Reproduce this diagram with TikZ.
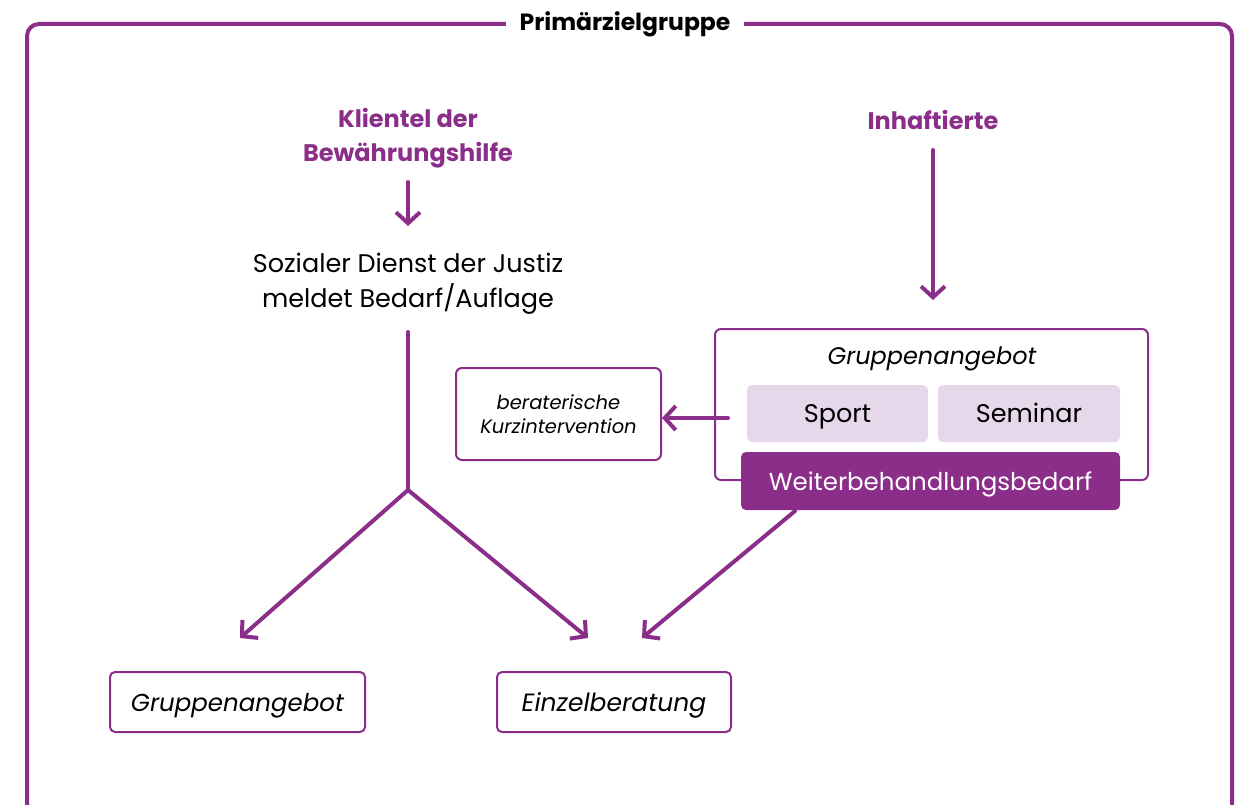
\documentclass[tikz,border=0pt]{standalone}
\usepackage{fontspec}
\setmainfont{Poppins}
\usetikzlibrary{arrows.meta}
\definecolor{pur}{RGB}{139,46,137}
\definecolor{lpur}{RGB}{230,216,234}
\begin{document}
\begin{tikzpicture}[x=1pt,y=-1pt,
  conn/.style={draw=pur,line width=4pt,line cap=round,-{Straight Barb[length=11pt,width=24pt,line width=4pt]}},
  plain/.style={draw=pur,line width=4pt,line cap=round},
  obox/.style={draw=pur,line width=2pt,rounded corners=6pt,fill=white},
  head/.style={font=\fontsize{24}{34}\selectfont\bfseries,text=pur,align=center},
  body/.style={font=\fontsize{25.5}{35}\selectfont,align=center},
  tile/.style={rounded corners=5pt,text height=21pt,text depth=3pt,inner ysep=0pt}]
\useasboundingbox (0,0) rectangle (1239,805);
\draw[draw=pur,line width=4pt,rounded corners=12pt] (27,820) -- (27,24) -- (1232,24) -- (1232,820);
\node[fill=white,inner xsep=14pt,font=\fontsize{23.5}{26}\selectfont\bfseries] (title) at (625,24) {Primärzielgruppe};
% left
\node[head] (klient) at (408,138) {Klientel der\\Bewährungshilfe};
\coordinate (ka) at (408,182);
\coordinate (kb) at (408,226);
\draw[conn] (ka) -- (kb);
\node[body] (sdj) at (408,284) {Sozialer Dienst der Justiz\\meldet Bedarf/Auflage};
\coordinate (ls) at (408,332);
\coordinate (jn) at (408,490);
\draw[plain] (ls) -- (jn);
% right
\node[head] (inh) at (933,120) {Inhaftierte};
\coordinate (ia) at (933,150);
\coordinate (ib) at (933,300);
\draw[conn] (ia) -- (ib);
\draw[obox] (715,329) rectangle (1148,480);
\node[font=\fontsize{24}{30}\selectfont\itshape,text height=18pt,text depth=6pt] (ga) at (932,358) {Gruppenangebot};
\node[tile,fill=lpur,minimum width=181pt,minimum height=57pt,font=\fontsize{25.5}{26}\selectfont] (sport) at (837.5,413.5) {Sport};
\node[tile,fill=lpur,minimum width=182pt,minimum height=57pt,font=\fontsize{25.5}{26}\selectfont] (sem) at (1029,413.5) {Seminar};
\node[tile,fill=pur,text=white,minimum width=379pt,minimum height=58pt,font=\fontsize{24.5}{26}\selectfont] (wb) at (930.5,481) {Weiterbehandlungsbedarf};
\node[obox,minimum width=205pt,minimum height=92pt,font=\fontsize{19.5}{24}\selectfont\itshape,align=center] (bk) at (558.5,414) {beraterische\\Kurzintervention};
\coordinate (wa) at (728,418);
\draw[conn] (wa) -- (bk.east |- wa);
% bottom
\node[obox,tile,minimum width=255pt,minimum height=60pt,font=\fontsize{24.5}{26}\selectfont\itshape] (g2) at (237.5,702) {Gruppenangebot};
\node[obox,tile,minimum width=234pt,minimum height=60pt,font=\fontsize{25}{26}\selectfont\itshape] (ez) at (614,702) {Einzelberatung};
\coordinate (ga2) at (240,638);
\coordinate (ez1) at (588,638);
\coordinate (ez2) at (642,638);
\coordinate (wbs) at (795,511);
\draw[conn] (jn) -- (ga2);
\draw[conn] (jn) -- (ez1);
\draw[conn] (wbs) -- (ez2);
\end{tikzpicture}
\end{document}
